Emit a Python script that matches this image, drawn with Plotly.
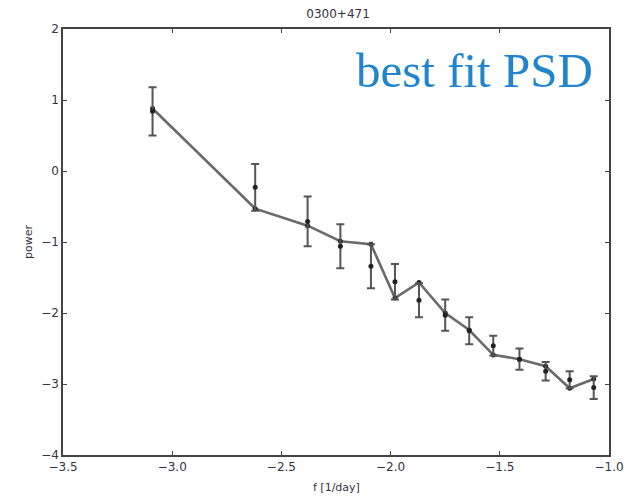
import plotly.graph_objects as go

# log10 frequency bins [1/day]
freq = [-3.09, -2.62, -2.38, -2.23, -2.09, -1.98, -1.87, -1.75, -1.64, -1.53, -1.41, -1.29, -1.18, -1.07]
# observed log power and 1-sigma uncertainties
power = [0.84, -0.23, -0.71, -1.06, -1.34, -1.56, -1.82, -2.03, -2.25, -2.46, -2.65, -2.82, -2.94, -3.05]
power_err = [0.34, 0.33, 0.35, 0.31, 0.31, 0.25, 0.24, 0.22, 0.19, 0.14, 0.15, 0.13, 0.12, 0.16]
# best-fit model PSD evaluated at the same bins
model = [0.88, -0.53, -0.77, -0.99, -1.03, -1.79, -1.57, -2.00, -2.24, -2.59, -2.65, -2.75, -3.06, -2.93]

x_ticks = [-3.5, -3.0, -2.5, -2.0, -1.5, -1.0]
y_ticks = [-4, -3, -2, -1, 0, 1, 2]

fig = go.Figure()

fig.add_trace(go.Scatter(
    x=freq, y=model, mode="lines+markers",
    line=dict(color="#6a6a6a", width=2.6),
    marker=dict(color="#222222", size=5),
    showlegend=False,
))

fig.add_trace(go.Scatter(
    x=freq, y=power, mode="markers",
    marker=dict(color="#222222", size=5),
    error_y=dict(type="data", array=power_err, visible=True,
                 color="#555555", thickness=2, width=4),
    showlegend=False,
))

axis_common = dict(
    showgrid=False, zeroline=False, showline=True, linecolor="#444444",
    linewidth=1.5, mirror="ticks", ticks="inside", ticklen=4,
    tickcolor="#444444", tickwidth=1,
    tickfont=dict(family="DejaVu Sans", size=12, color="#333344"),
)

fig.update_xaxes(range=[-3.5, -1.0], tickvals=x_ticks,
                 ticktext=[f"{v:.1f}".replace("-", "\u2212") for v in x_ticks],
                 **axis_common)
fig.update_yaxes(range=[-4, 2], tickvals=y_ticks,
                 ticktext=[str(v).replace("-", "\u2212") for v in y_ticks],
                 **axis_common)

fig.update_layout(
    width=636, height=498,
    margin=dict(l=63, r=23, t=29, b=43),
    plot_bgcolor="white", paper_bgcolor="white",
    title=dict(text="0300+471", x=0.5315, xanchor="center",
               y=1 - 14 / 498, yanchor="middle", yref="container",
               font=dict(family="DejaVu Sans", size=12, color="#333344")),
    annotations=[
        dict(text="f [1/day]", xref="paper", yref="paper", x=0.5, y=0,
             xanchor="center", yanchor="middle", yshift=-32, showarrow=False,
             font=dict(family="DejaVu Sans", size=11, color="#333344")),
        dict(text="power", xref="paper", yref="paper", x=0, y=0.5,
             xanchor="center", yanchor="middle", xshift=-35, textangle=-90,
             showarrow=False,
             font=dict(family="DejaVu Sans", size=11, color="#333344")),
        dict(text="best fit PSD", xref="paper", yref="paper", x=0.9636, y=0.972,
             xanchor="right", yanchor="top", xshift=6, showarrow=False,
             font=dict(family="Liberation Serif", size=49, color="#2085cc")),
    ],
)

fig.write_html("out.html")
